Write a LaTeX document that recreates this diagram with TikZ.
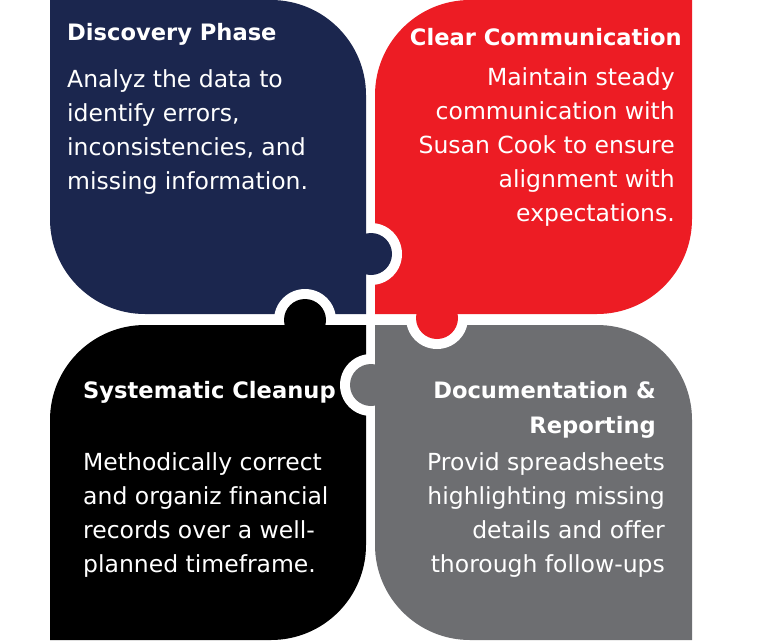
\documentclass[tikz,border=0pt]{standalone}
\usepackage{fontspec}
\setmainfont{DejaVu Sans}[Ligatures=NoCommon]
\definecolor{pnavy}{RGB}{27,38,78}
\definecolor{pred}{RGB}{237,28,36}
\definecolor{pgray}{RGB}{109,110,113}
\definecolor{pblack}{RGB}{0,0,0}
\tikzset{
  piecetext/.style={inner sep=0pt, text=white, font=\fontsize{23.5}{34.2}\selectfont},
  piecehead/.style={inner sep=0pt, text=white, font=\fontsize{22.6}{35}\selectfont\bfseries},
  ring/.style={fill=white},
}
\begin{document}
\begin{tikzpicture}[x=1pt,y=-1pt]
\useasboundingbox[fill=white] (0,0) rectangle (768,640);
% pieces
\fill[pnavy] (50,0) -- (271,0) arc[start angle=270,end angle=360,radius=95]
  -- (366,314) -- (145,314) arc[start angle=90,end angle=180,radius=95] -- cycle;
\fill[pred] (375,314) -- (375,95) arc[start angle=180,end angle=270,radius=95]
  -- (692,0) -- (692,219) arc[start angle=0,end angle=90,radius=95] -- cycle;
\fill[pblack] (50,640) -- (50,420) arc[start angle=180,end angle=270,radius=95]
  -- (366,325) -- (366,545) arc[start angle=0,end angle=90,radius=95] -- cycle;
\fill[pgray] (375,325) -- (597,325) arc[start angle=270,end angle=360,radius=95]
  -- (692,640) -- (470,640) arc[start angle=90,end angle=180,radius=95] -- cycle;
% knobs
\begin{scope}
  \clip (370.5,0) rectangle (768,319.5);
  \fill[ring] (371,254) circle[radius=31];
\end{scope}
\fill[pnavy] (371,254) circle[radius=21];
\begin{scope}
  \clip (0,0) rectangle (370.5,319.5);
  \fill[ring] (305,320) circle[radius=31];
\end{scope}
\fill[pblack] (305,320) circle[radius=21];
\begin{scope}
  \clip (370.5,319.5) rectangle (768,640);
  \fill[ring] (437,318) circle[radius=31];
\end{scope}
\fill[pred] (437,318) circle[radius=21];
\begin{scope}
  \clip (0,319.5) rectangle (370.5,640);
  \fill[ring] (371,385) circle[radius=31];
\end{scope}
\fill[pgray] (371,385) circle[radius=21];
% texts
\node[piecehead, anchor=base west] (h1) at (67,40) {Discovery Phase};
\node[piecetext, anchor=base west] (b1) at (67,87) {\parbox[t]{290pt}{\raggedright Analyz the data to\\ identify errors,\\ inconsistencies, and\\ missing information.}};
\node[piecehead, anchor=base east] (h2) at (682,45) {Clear Communication};
\node[piecetext, anchor=base east] (b2) at (675,85) {\parbox[t]{290pt}{\raggedleft Maintain steady\\ communication with\\ Susan Cook to ensure\\ alignment with\\ expectations.}};
\node[piecehead, anchor=base west] (h3) at (83,398) {Systematic Cleanup};
\node[piecetext, anchor=base west] (b3) at (83,470) {\parbox[t]{290pt}{\raggedright Methodically correct\\ and organiz financial\\ records over a well-\\ planned timeframe.}};
\node[piecehead, anchor=base east] (h4) at (656,398) {\parbox[t]{290pt}{\raggedleft Documentation \&\\ Reporting}};
\node[piecetext, anchor=base east] (b4) at (665,470) {\parbox[t]{290pt}{\raggedleft Provid spreadsheets\\ highlighting missing\\ details and offer\\ thorough follow-ups}};
\end{tikzpicture}
\end{document}
